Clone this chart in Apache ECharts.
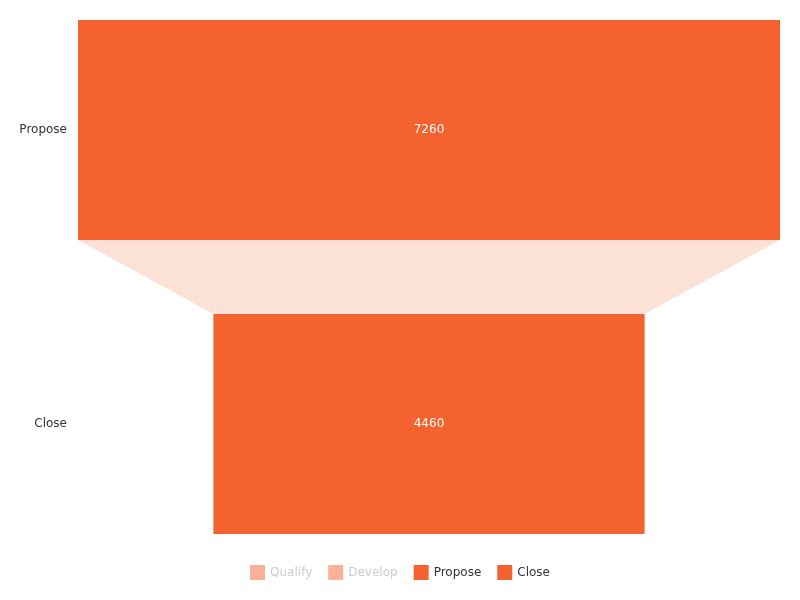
<!DOCTYPE html>
<html>
<head>
<meta charset="utf-8">
<script src="https://cdn.jsdelivr.net/npm/echarts@6/dist/echarts.min.js"></script>
<style>html,body{margin:0;padding:0;background:#fff}#c{width:800px;height:600px}</style>
</head>
<body>
<div id="c"></div>
<script>
// Data
const stages = ['Propose', 'Close'];
const values = [7260, 4460];
const legendNames = ['Qualify', 'Develop', 'Propose', 'Close'];
const hiddenNames = ['Qualify', 'Develop'];

// Style
const MAIN = '#f4632f';
const LINK = '#fce1d6';
const FADED = '#f9b197';
const FONT = '12px "DejaVu Sans", sans-serif';
const LINK_RATIO = 74 / 514;

const maxVal = Math.max.apply(null, values);
const chart = echarts.init(document.getElementById('c'));

function makeRender(i) {
  return function (params, api) {
    const cs = params.coordSys;
    const n = stages.length;
    const linkH = cs.height * LINK_RATIO;
    const sliceH = (cs.height - (n - 1) * linkH) / n;
    const v = api.value(0);
    const top = cs.y + i * (sliceH + linkH);
    const xl = api.coord([-v / 2, 0])[0];
    const xr = api.coord([v / 2, 0])[0];
    const children = [];
    if (i < n - 1) {
      const vn = values[i + 1];
      const xl2 = api.coord([-vn / 2, 0])[0];
      const xr2 = api.coord([vn / 2, 0])[0];
      children.push({
        type: 'polygon',
        shape: { points: [[xl, top + sliceH], [xr, top + sliceH], [xr2, top + sliceH + linkH], [xl2, top + sliceH + linkH]] },
        style: { fill: LINK }
      });
    }
    children.push({
      type: 'rect',
      shape: { x: xl, y: top, width: xr - xl, height: sliceH },
      style: { fill: MAIN }
    });
    children.push({
      type: 'text',
      style: { text: String(v), x: (xl + xr) / 2, y: top + sliceH / 2, fill: '#fff', align: 'center', verticalAlign: 'middle', font: FONT }
    });
    children.push({
      type: 'text',
      style: { text: stages[i], x: cs.x - 11, y: top + sliceH / 2, fill: '#333', align: 'right', verticalAlign: 'middle', font: FONT }
    });
    return { type: 'group', children: children };
  };
}

const series = [];
hiddenNames.forEach(function (nm) {
  series.push({ name: nm, type: 'bar', data: [], itemStyle: { color: FADED } });
});
stages.forEach(function (nm, i) {
  series.push({
    name: nm,
    type: 'custom',
    renderItem: makeRender(i),
    data: [[values[i], 0]],
    itemStyle: { color: MAIN },
    silent: true
  });
});

chart.setOption({
  animation: false,
  grid: { left: 78, right: 20, top: 20, bottom: 66 },
  xAxis: { type: 'value', min: -maxVal / 2, max: maxVal / 2, show: false },
  yAxis: { type: 'value', min: 0, max: 1, show: false },
  legend: {
    top: 560,
    left: 'center',
    itemWidth: 15,
    itemHeight: 15,
    itemGap: 16,
    icon: 'rect',
    textStyle: { fontSize: 12, fontFamily: '"DejaVu Sans", sans-serif', color: '#333' },
    data: legendNames.map(function (nm) {
      const hidden = hiddenNames.indexOf(nm) >= 0;
      return hidden
        ? { name: nm, itemStyle: { color: FADED }, textStyle: { color: '#ccc' } }
        : { name: nm, itemStyle: { color: MAIN } };
    })
  },
  series: series
});
</script>
</body>
</html>
